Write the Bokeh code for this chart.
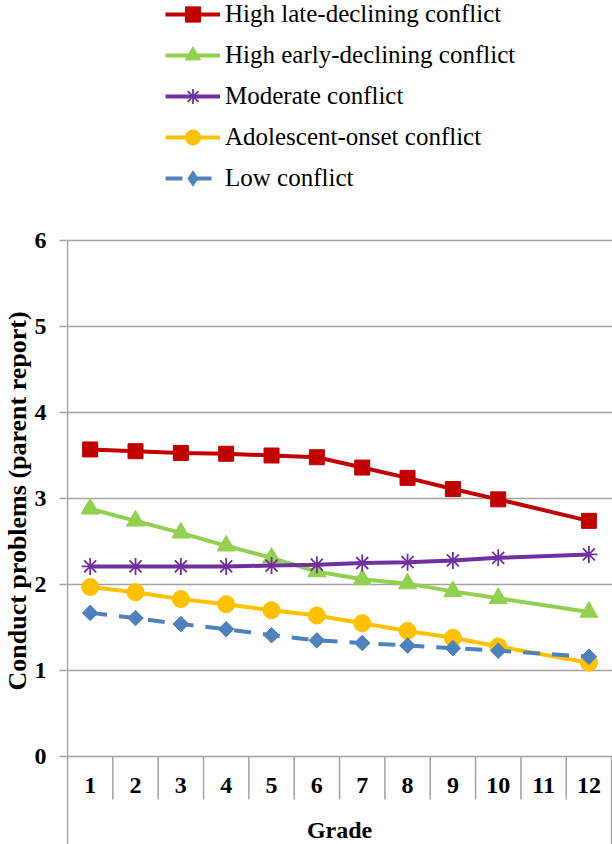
import math
from bokeh.plotting import figure
from bokeh.models import Range1d, FixedTicker, Legend, LegendItem, ColumnDataSource, Title
from bokeh.core.properties import value
from bokeh.embed import file_html
from bokeh.resources import INLINE

# ---- data ----
grades = [1, 2, 3, 4, 5, 6, 7, 8, 9, 10, 12]          # grade 11 has no data
grade_labels = ["1", "2", "3", "4", "5", "6", "7", "8", "9", "10", "11", "12"]
y_ticks = [0, 1, 2, 3, 4, 5, 6]

high_late = [3.57, 3.55, 3.53, 3.52, 3.50, 3.48, 3.36, 3.24, 3.11, 2.99, 2.74]
high_early = [2.88, 2.74, 2.60, 2.45, 2.31, 2.15, 2.06, 2.01, 1.92, 1.84, 1.68]
moderate = [2.21, 2.21, 2.21, 2.21, 2.22, 2.23, 2.25, 2.26, 2.28, 2.31, 2.35]
adolescent = [1.97, 1.91, 1.83, 1.77, 1.70, 1.64, 1.55, 1.46, 1.38, 1.28, 1.09]
low = [1.67, 1.61, 1.54, 1.48, 1.41, 1.35, 1.32, 1.29, 1.26, 1.23, 1.16]

series_names = ["High late-declining conflict", "High early-declining conflict",
                "Moderate conflict", "Adolescent-onset conflict", "Low conflict"]

FONT = "Liberation Serif"
GRAY = "#a3a3a3"
W, H = 612, 844
PX_PER_UNIT = 86.0
TOP_PX = 240          # pixel row of value 6
LEFT = 66
FRAME_W = W - LEFT
PX_PER_CAT = 45.34
y_top = 6 + TOP_PX / PX_PER_UNIT
y_bottom = 6 - (H - TOP_PX) / PX_PER_UNIT
x_start = 0.5 - 1 / PX_PER_CAT
x_end = x_start + FRAME_W / PX_PER_CAT

p = figure(width=W, height=H,
           x_range=Range1d(x_start, x_end), y_range=Range1d(y_bottom, y_top),
           x_axis_location=None,
           output_backend="svg", toolbar_location=None,
           min_border_left=LEFT, min_border_right=0,
           min_border_top=0, min_border_bottom=0)
p.outline_line_color = None
p.background_fill_color = "white"
p.border_fill_color = "white"

# grid
p.xgrid.visible = False
p.ygrid.ticker = FixedTicker(ticks=y_ticks)
p.ygrid.grid_line_color = GRAY
p.ygrid.grid_line_width = 1.5

# y axis
ax = p.yaxis[0]
ax.ticker = FixedTicker(ticks=y_ticks)
ax.major_tick_out = 7
ax.major_tick_in = 0
ax.minor_tick_out = 0
ax.minor_tick_in = 0
ax.axis_line_color = None
ax.major_tick_line_color = GRAY
ax.major_tick_line_width = 1.5
ax.major_label_text_font = FONT
ax.major_label_text_font_style = "bold"
ax.major_label_text_font_size = "24px"
ax.major_label_text_color = "black"
ax.major_label_standoff = 13

# y axis title, placed along the 0-6 span
ytitle = Title(text="Conduct problems (parent report)", align="left", offset=154,
               standoff=0, text_font=FONT, text_font_style="bold",
               text_font_size="26px", text_color="black")
p.add_layout(ytitle, "left")

# left axis line (runs down through the category box) and right box edge
p.segment(x0=[0.5], y0=[6], x1=[0.5], y1=[y_bottom], line_color=GRAY, line_width=1.5)
p.segment(x0=[12.5], y0=[0], x1=[12.5], y1=[y_bottom], line_color=GRAY, line_width=1.5)

# category box below the zero line
cat_x = list(range(1, len(grade_labels) + 1))
bounds = [c + 0.5 for c in cat_x[:-1]]
p.segment(x0=bounds, y0=[0] * len(bounds), x1=bounds, y1=[-0.5] * len(bounds),
          line_color=GRAY, line_width=1.5)
p.text(x=cat_x, y=[-0.337] * len(cat_x), text=grade_labels,
       text_font=value(FONT), text_font_style="bold", text_font_size="24px",
       text_align="center", text_baseline="middle", text_color="black")
p.text(x=[6.5], y=[-0.86], text=["Grade"],
       text_font=value(FONT), text_font_style="bold", text_font_size="24px",
       text_align="center", text_baseline="middle", text_color="black")

# series
styles = [
    dict(data=high_late, color="#C00000", marker="square", size=15, dash="solid"),
    dict(data=high_early, color="#92D050", marker="triangle", size=18, dash="solid"),
    dict(data=moderate, color="#7030A0", marker="asterisk", size=17, dash="solid"),
    dict(data=adolescent, color="#FFC000", marker="circle", size=17, dash="solid"),
    dict(data=low, color="#4F81BD", marker="square", size=11, dash="17 12"),
]

items = []
for name, st in zip(series_names, styles):
    src = ColumnDataSource(dict(x=grades, y=st["data"]))
    lr = p.line("x", "y", source=src, line_color=st["color"], line_width=4,
                line_dash=st["dash"])
    if st["marker"] == "asterisk":
        sr = p.scatter("x", "y", source=src, marker="asterisk", size=st["size"],
                       line_color=st["color"], line_width=1.8)
        leg = [lr, sr]
    elif name == "Low conflict":
        # diamond markers (used as legend key), covered by the rotated squares
        key = p.scatter("x", "y", source=src, marker="diamond", size=st["size"],
                        fill_color=st["color"], line_color=st["color"])
        sr = p.scatter("x", "y", source=src, marker="square", size=st["size"],
                       angle=math.pi / 4, fill_color=st["color"], line_color=st["color"])
        leg = [lr, key]
    else:
        sr = p.scatter("x", "y", source=src, marker=st["marker"], size=st["size"],
                       fill_color=st["color"], line_color=st["color"])
        leg = [lr, sr]
    items.append(LegendItem(label=name, renderers=leg))

legend = Legend(items=items, location=(99, 647), padding=0, margin=0,
                border_line_color=None, background_fill_alpha=0,
                spacing=3, glyph_width=55, glyph_height=38, label_height=24,
                label_standoff=5, label_text_font=FONT,
                label_text_font_size="25px", label_text_color="black")
p.add_layout(legend)

open("out.html", "w").write(file_html(p, INLINE))
